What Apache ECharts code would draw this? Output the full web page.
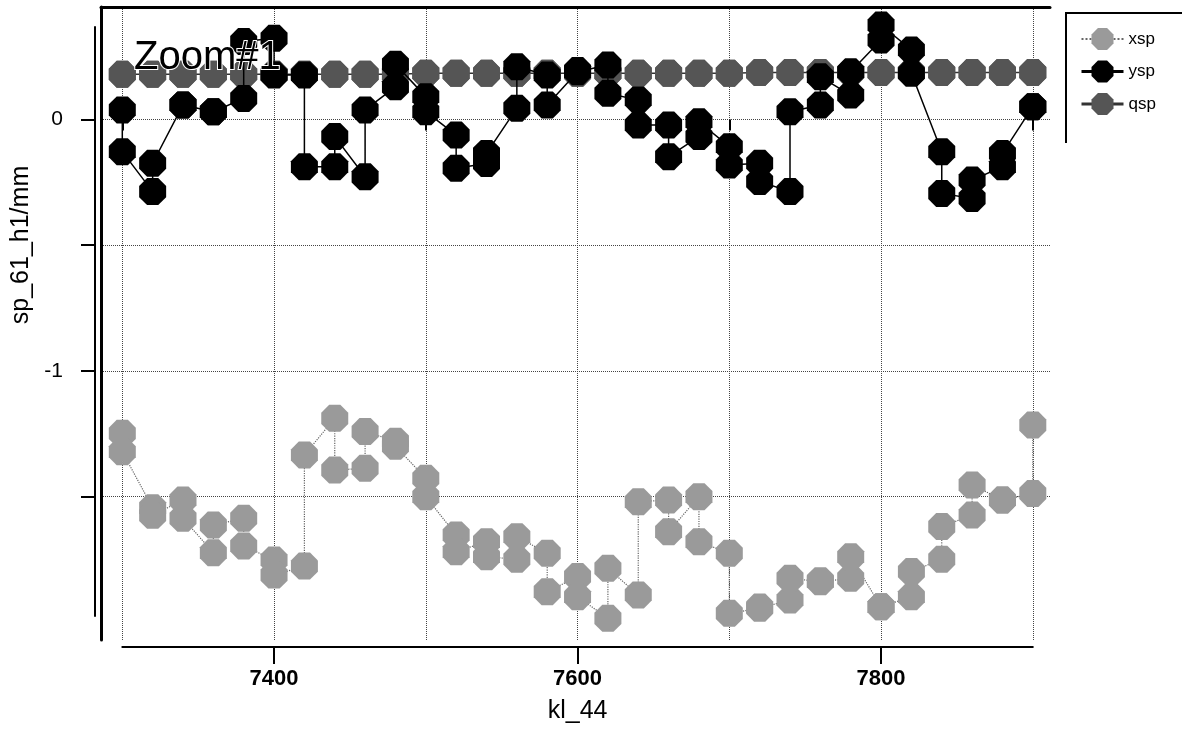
<!DOCTYPE html>
<html><head><meta charset="utf-8">
<script src="https://cdn.jsdelivr.net/npm/echarts@6/dist/echarts.min.js"></script>
<style>html,body{margin:0;padding:0;background:#fff}#c{width:1182px;height:729px}</style>
</head><body><div id="c"></div>
<script>
// ---- data (each kl_44 value carries two samples) ----
const kl_44 = [7300,7300,7320,7320,7340,7340,7360,7360,7380,7380,7400,7400,7420,7420,7440,7440,7460,7460,7480,7480,
  7500,7500,7520,7520,7540,7540,7560,7560,7580,7580,7600,7600,7620,7620,7640,7640,7660,7660,7680,7680,
  7700,7700,7720,7720,7740,7740,7760,7760,7780,7780,7800,7800,7820,7820,7840,7840,7860,7860,7880,7880,7900,7900];
const xsp = [-1.249,-1.322,-1.545,-1.575,-1.514,-1.587,-1.724,-1.614,-1.587,-1.697,-1.753,-1.813,-1.777,-1.335,-1.189,-1.395,-1.388,-1.242,-1.280,-1.300,
  -1.428,-1.501,-1.653,-1.720,-1.680,-1.740,-1.750,-1.660,-1.726,-1.879,-1.819,-1.899,-1.985,-1.786,-1.892,-1.521,-1.514,-1.640,-1.501,-1.680,
  -1.726,-1.965,-1.945,-1.940,-1.912,-1.826,-1.839,-1.835,-1.826,-1.740,-1.939,-1.939,-1.899,-1.799,-1.750,-1.620,-1.574,-1.454,-1.514,-1.514,-1.488,-1.216];
const ysp = [0.038,-0.128,-0.287,-0.174,0.058,0.058,0.031,0.031,0.084,0.310,0.323,0.177,0.177,-0.188,-0.188,-0.068,-0.228,0.038,0.130,0.220,
  0.091,0.031,-0.062,-0.194,-0.175,-0.135,0.045,0.210,0.177,0.058,0.190,0.195,0.217,0.104,0.078,-0.022,-0.022,-0.148,-0.068,-0.009,
  -0.108,-0.181,-0.174,-0.247,-0.287,0.031,0.058,0.170,0.097,0.190,0.316,0.376,0.277,0.184,-0.128,-0.294,-0.314,-0.241,-0.188,-0.135,0.051,0.051];
const qsp = [0.180,0.180,0.180,0.180,0.180,0.180,0.180,0.180,0.180,0.180,0.180,0.180,0.180,0.180,0.180,0.180,0.180,0.180,0.180,0.180,
  0.184,0.184,0.184,0.184,0.184,0.184,0.184,0.184,0.184,0.184,0.184,0.184,0.184,0.184,0.184,0.184,0.184,0.184,0.184,0.184,
  0.184,0.184,0.187,0.187,0.187,0.187,0.187,0.187,0.187,0.187,0.187,0.187,0.187,0.187,0.187,0.187,0.187,0.187,0.187,0.187,0.187,0.187];
const xGridValues = [7300,7400,7500,7600,7700,7800,7900];
const xLabelValues = [7400,7600,7800];
const xMinorValues = [7300,7500,7700,7900];
const yTickValues = [0,-0.5,-1,-1.5];
const yLabelValues = [0,-1];

// ---- layout geometry ----
const FONT = '"Liberation Sans", Arial, sans-serif';
const oct = 'path://M29.3,0L70.7,0L100,29.3L100,70.7L70.7,100L29.3,100L0,70.7L0,29.3Z';
const axL = 122.3, axR = 1032.8, axT = 27, axB = 616;
const frL = 101, frR = 1050, frT = 7, frB = 640;
const xPx = (axR - axL) / 600, y0 = 119.5, yPx = 251.3;
const xMinF = 7300 - (axL - frL) / xPx, xMaxF = 7900 + (frR - axR) / xPx;
const yMaxF = (y0 - frT) / yPx, yMinF = (y0 - frB) / yPx;
const yMaxA = (y0 - axT) / yPx, yMinA = (y0 - axB) / yPx;

const grid = '#444';
const chart = echarts.init(document.getElementById('c'), null, {renderer: 'canvas'});
const pts = arr => kl_44.map((x, i) => [x, arr[i]]);

chart.setOption({
  animation: false,
  backgroundColor: '#fff',
  grid: [
    {left: frL, top: frT, width: frR - frL, height: frB - frT, show: false},
    {left: axL, top: axT, width: axR - axL, height: axB - axT, show: false}
  ],
  xAxis: [
    {gridIndex: 0, type: 'value', position: 'top', min: xMinF, max: xMaxF,
     axisLine: {show: true, onZero: false, lineStyle: {color: '#000', width: 3}},
     axisTick: {show: false, customValues: xGridValues}, axisLabel: {show: false},
     splitLine: {show: true, lineStyle: {color: grid, type: 'dotted', width: 1}}},
    {gridIndex: 1, type: 'value', position: 'bottom', offset: 31, min: 7300, max: 7900,
     axisLine: {show: true, onZero: false, lineStyle: {color: '#000', width: 2}},
     axisTick: {show: true, customValues: xLabelValues, length: 17, lineStyle: {color: '#000', width: 2}},
     axisLabel: {show: true, customValues: xLabelValues, margin: 21, color: '#000', fontFamily: FONT, fontSize: 22, fontWeight: 'bold',
       formatter: v => String(v)},
     splitLine: {show: false},
     name: 'kl_44', nameLocation: 'middle', nameGap: 52,
     nameTextStyle: {color: '#000', fontFamily: FONT, fontSize: 25}},
    {gridIndex: 1, type: 'value', position: 'bottom', offset: 31, min: 7300, max: 7900,
     axisLine: {show: false}, axisLabel: {show: false}, splitLine: {show: false},
     axisTick: {show: true, customValues: xMinorValues, length: 11, lineStyle: {color: '#000', width: 2}}}
  ],
  yAxis: [
    {gridIndex: 0, type: 'value', position: 'left', min: yMinF, max: yMaxF,
     axisLine: {show: true, onZero: false, lineStyle: {color: '#000', width: 3}},
     axisTick: {show: false, customValues: yTickValues}, axisLabel: {show: false},
     splitLine: {show: true, lineStyle: {color: grid, type: 'dotted', width: 1}}},
    {gridIndex: 1, type: 'value', position: 'left', offset: axL - 95, min: yMinA, max: yMaxA,
     axisLine: {show: true, onZero: false, lineStyle: {color: '#000', width: 2}},
     axisTick: {show: true, customValues: yTickValues, length: 14, lineStyle: {color: '#000', width: 2}},
     axisLabel: {show: true, customValues: yLabelValues, margin: 32, color: '#000', fontFamily: FONT, fontSize: 21,
       formatter: v => String(v)},
     splitLine: {show: false},
     name: 'sp_61_h1/mm', nameLocation: 'middle', nameRotate: 90, nameGap: 60,
     nameTextStyle: {color: '#000', fontFamily: FONT, fontSize: 25, padding: [0, 0, 0, 153]}}
  ],
  legend: {
    orient: 'vertical', left: 1080, top: 28, itemWidth: 42, itemHeight: 27.5, itemGap: 10.5,
    selectedMode: false, padding: 0,
    textStyle: {color: '#000', fontFamily: FONT, fontSize: 17},
    data: [{name: 'xsp'}, {name: 'ysp', lineStyle: {width: 3}}, {name: 'qsp', lineStyle: {width: 3}}]
  },
  series: [
    {name: 'xsp', type: 'line', xAxisIndex: 1, yAxisIndex: 1, data: pts(xsp), clip: false,
     symbol: oct, symbolSize: 27, z: 2,
     itemStyle: {color: '#9a9a9a'}, lineStyle: {color: '#666', width: 1.2, type: 'dotted'}},
    {name: 'qsp', type: 'line', xAxisIndex: 1, yAxisIndex: 1, data: pts(qsp), clip: false,
     symbol: oct, symbolSize: 27, z: 3,
     itemStyle: {color: '#555'}, lineStyle: {color: '#333', width: 1.5}},
    {name: 'ysp', type: 'line', xAxisIndex: 1, yAxisIndex: 1, data: pts(ysp), clip: false,
     symbol: oct, symbolSize: 27, z: 4,
     itemStyle: {color: '#000'}, lineStyle: {color: '#000', width: 1.5}}
  ],
  graphic: [
    {type: 'polyline', z: 10, shape: {points: [[1066, 143], [1066, 13], [1182, 13]]},
     style: {stroke: '#000', lineWidth: 2, fill: null}},
    {type: 'text', z: 100, left: 133, top: 37,
     style: {text: 'Zoom#1', font: '40px ' + FONT, fill: '#000', stroke: '#fff', lineWidth: 2}}
  ]
});
</script></body></html>
